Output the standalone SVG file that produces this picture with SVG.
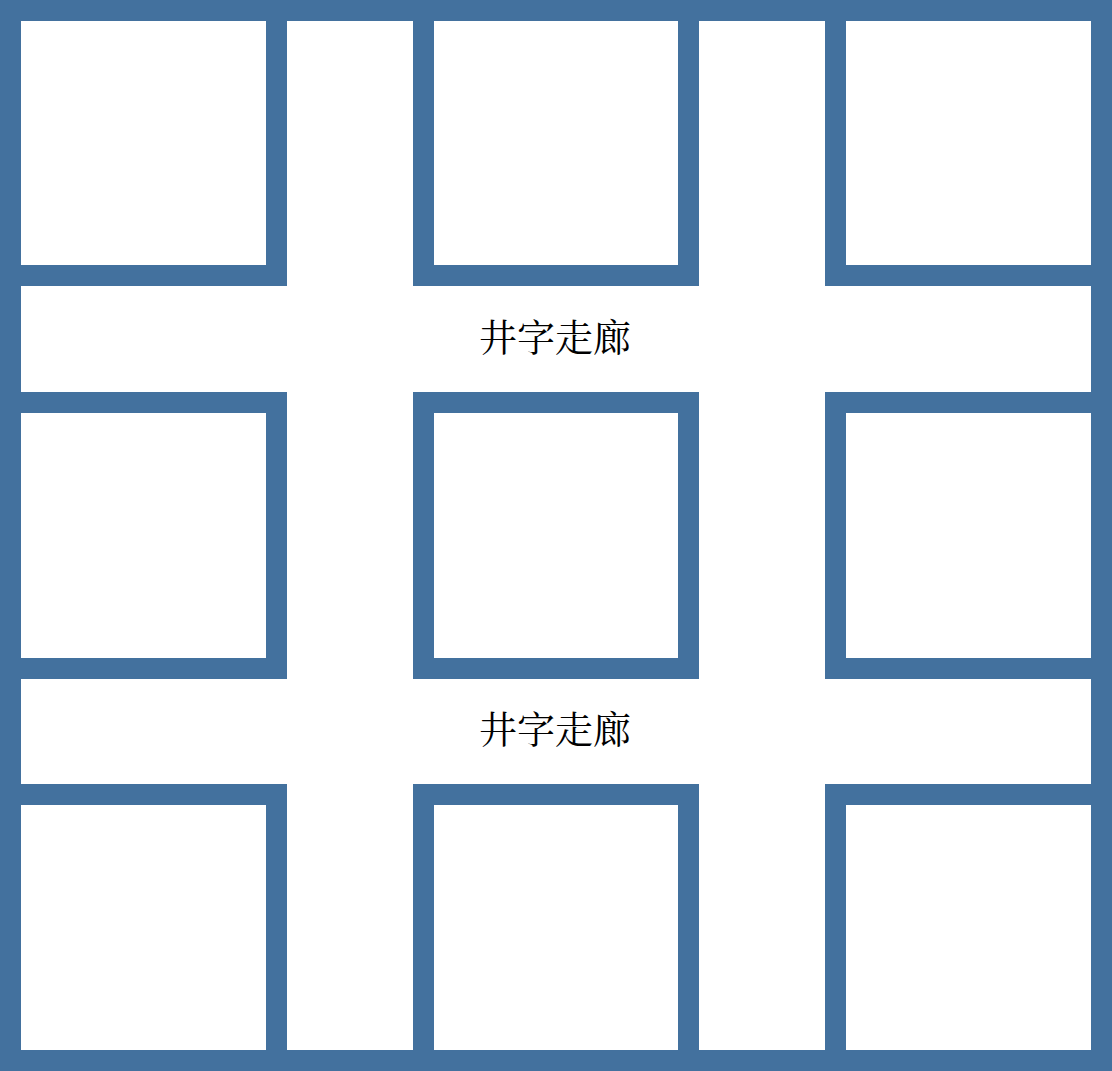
<svg xmlns="http://www.w3.org/2000/svg" width="1112" height="1071" viewBox="0 0 1112 1071">
<style>
.room{fill:#ffffff;stroke:#43719e;stroke-width:21}
.lbl{font-family:"Noto Serif CJK SC","Noto Sans CJK SC",serif;font-size:38px;fill:#000000;text-anchor:middle}
</style>
<rect x="0" y="0" width="1112" height="1071" fill="#ffffff"/>
<g id="room-r1c1"><rect class="room" x="10.5" y="10.5" width="266" height="265"/></g>
<g id="room-r1c2"><rect class="room" x="423.5" y="10.5" width="265" height="265"/></g>
<g id="room-r1c3"><rect class="room" x="835.5" y="10.5" width="266" height="265"/></g>
<g id="room-r2c1"><rect class="room" x="10.5" y="402.5" width="266" height="266"/></g>
<g id="room-r2c2"><rect class="room" x="423.5" y="402.5" width="265" height="266"/></g>
<g id="room-r2c3"><rect class="room" x="835.5" y="402.5" width="266" height="266"/></g>
<g id="room-r3c1"><rect class="room" x="10.5" y="794.5" width="266" height="266"/></g>
<g id="room-r3c2"><rect class="room" x="423.5" y="794.5" width="265" height="266"/></g>
<g id="room-r3c3"><rect class="room" x="835.5" y="794.5" width="266" height="266"/></g>
<g id="walls">
<rect x="0" y="0" width="1112" height="21" fill="#43719e"/>
<rect x="0" y="1050" width="1112" height="21" fill="#43719e"/>
<rect x="0" y="0" width="21" height="1071" fill="#43719e"/>
<rect x="1091" y="0" width="21" height="1071" fill="#43719e"/>
</g>
<g id="corridor-1"><text class="lbl" x="555" y="351">井字走廊</text></g>
<g id="corridor-2"><text class="lbl" x="555" y="743">井字走廊</text></g>
</svg>
